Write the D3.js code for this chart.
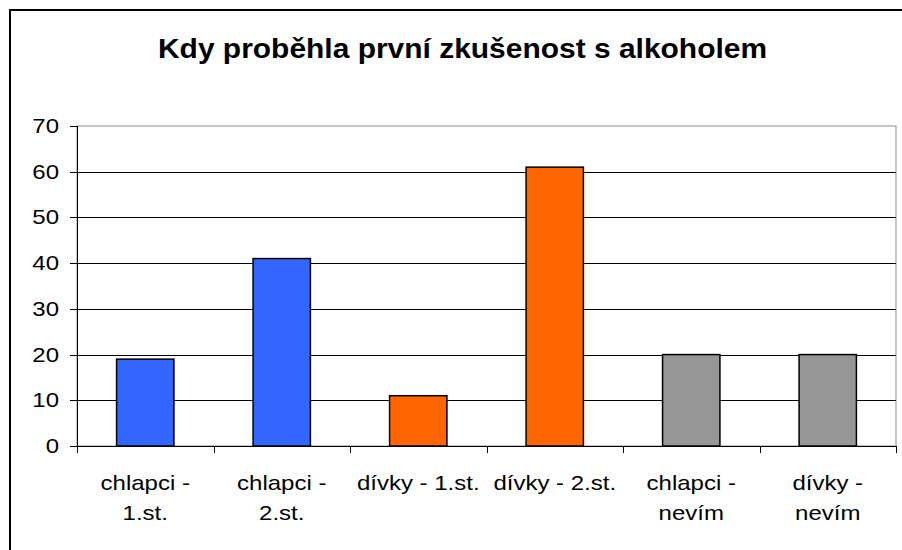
<!DOCTYPE html>
<html>
<head>
<meta charset="utf-8">
<script src="https://cdn.jsdelivr.net/npm/d3@7"></script>
<style>
  body { margin: 0; background: #fff; }
  svg { display: block; font-family: "Liberation Sans", Arial, sans-serif; }
</style>
</head>
<body>
<div id="vis"><svg></svg></div>
<script>
// data
const categories = ["chlapci - 1.st.", "chlapci - 2.st.", "dívky - 1.st.", "dívky - 2.st.", "chlapci - nevím", "dívky - nevím"];
const labelLines = [["chlapci -", "1.st."], ["chlapci -", "2.st."], ["dívky - 1.st."], ["dívky - 2.st."], ["chlapci -", "nevím"], ["dívky -", "nevím"]];
const values = [19, 41, 11, 61, 20, 20];
const barColors = ["#3366ff", "#3366ff", "#ff6600", "#ff6600", "#969696", "#969696"];
const yTicks = [0, 10, 20, 30, 40, 50, 60, 70];
const title = "Kdy proběhla první zkušenost s alkoholem";

const W = 902, H = 550;
const plot = {left: 77, right: 896, top: 126, bottom: 446};
const sx = 1.2; // text in the picture is stretched sideways

const svg = d3.select("#vis").select("svg").attr("width", W).attr("height", H);

// outer frame (right and bottom edges run off the picture)
svg.append("rect")
  .attr("x", 10).attr("y", 10).attr("width", 920).attr("height", 560)
  .attr("fill", "none").attr("stroke", "#000").attr("stroke-width", 2);

svg.append("text")
  .attr("transform", `translate(462.5,58) scale(1.07,1)`)
  .attr("text-anchor", "middle")
  .attr("font-size", 28).attr("font-weight", "bold")
  .text(title);

const x = d3.scaleBand().domain(categories)
  .range([plot.left, plot.right]).paddingInner(0.58).paddingOuter(0.29);
const xb = d3.scaleBand().domain(categories).range([plot.left, plot.right]);
const y = d3.scaleLinear().domain([0, 70]).range([plot.bottom, plot.top]);

// plot area border
svg.append("rect")
  .attr("x", plot.left).attr("y", plot.top)
  .attr("width", plot.right - plot.left).attr("height", plot.bottom - plot.top)
  .attr("fill", "none").attr("stroke", "#8c8c8c").attr("stroke-width", 1);

// gridlines
svg.append("g").selectAll("line")
  .data(yTicks.filter(d => d > 0 && d < 70))
  .enter().append("line")
    .attr("x1", plot.left).attr("x2", plot.right)
    .attr("y1", d => Math.round(y(d)) + 0.5).attr("y2", d => Math.round(y(d)) + 0.5)
    .attr("stroke", "#000").attr("stroke-width", 1);

// y axis
const yAxis = svg.append("g");
yAxis.append("line")
  .attr("x1", plot.left + 0.5).attr("x2", plot.left + 0.5)
  .attr("y1", plot.top).attr("y2", plot.bottom)
  .attr("stroke", "#000");
yAxis.selectAll(".tick").data(yTicks).enter().append("line")
  .attr("x1", plot.left - 7).attr("x2", plot.left)
  .attr("y1", d => Math.round(y(d)) + 0.5).attr("y2", d => Math.round(y(d)) + 0.5)
  .attr("stroke", "#000");
yAxis.selectAll("text").data(yTicks).enter().append("text")
  .attr("transform", d => `translate(59,${y(d) + 7}) scale(${sx},1)`)
  .attr("text-anchor", "end").attr("font-size", 20)
  .text(d => d);

// bars
svg.append("g").selectAll("rect")
  .data(values)
  .enter().append("rect")
    .attr("x", (d, i) => x(categories[i]))
    .attr("y", d => y(d))
    .attr("width", x.bandwidth())
    .attr("height", d => y(0) - y(d))
    .attr("fill", (d, i) => barColors[i])
    .attr("stroke", "#000").attr("stroke-width", 1.5);

// x axis
const xAxis = svg.append("g");
xAxis.append("line")
  .attr("x1", plot.left).attr("x2", plot.right)
  .attr("y1", plot.bottom + 0.5).attr("y2", plot.bottom + 0.5)
  .attr("stroke", "#000");
const bounds = categories.map(c => xb(c)).concat([plot.right]);
xAxis.selectAll(".tick").data(bounds).enter().append("line")
  .attr("x1", d => Math.round(d) + 0.5).attr("x2", d => Math.round(d) + 0.5)
  .attr("y1", plot.bottom).attr("y2", plot.bottom + 7)
  .attr("stroke", "#000");
xAxis.selectAll("g.lab").data(categories).enter().append("g")
  .attr("class", "lab")
  .each(function(c, i) {
    d3.select(this).selectAll("text").data(labelLines[i]).enter().append("text")
      .attr("transform", (t, j) => `translate(${xb(c) + xb.bandwidth() / 2},${490 + j * 30}) scale(${sx},1)`)
      .attr("text-anchor", "middle").attr("font-size", 20)
      .text(t => t);
  });
</script>
</body>
</html>
